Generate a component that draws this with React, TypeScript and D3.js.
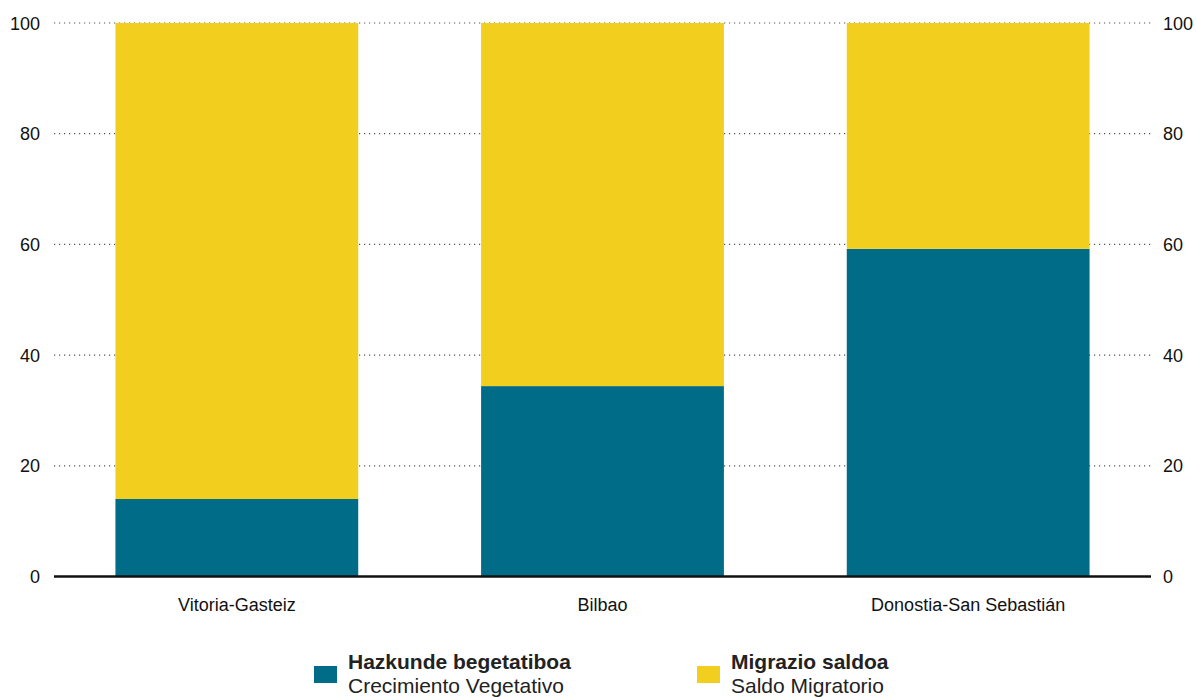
import React from "react";
import * as d3 from "d3";

const categories = ["Vitoria-Gasteiz", "Bilbao", "Donostia-San Sebastián"];
const vegetativo = [14.0, 34.4, 59.2];
const migratorio = [86.0, 65.6, 40.8];
const yTicks = [0, 20, 40, 60, 80, 100];
const seriesNamesEu = ["Hazkunde begetatiboa", "Migrazio saldoa"];
const seriesNamesEs = ["Crecimiento Vegetativo", "Saldo Migratorio"];
const colors = ["#006c87", "#f2cf1e"];

export default function App() {
  const W = 1196, H = 697;
  const left = 54, right = 1151, top = 23, bottom = 576.5;
  const x = d3.scaleBand<string>().domain(categories).range([left, right]).paddingInner(0.336).paddingOuter(0.168);
  const y = d3.scaleLinear().domain([0, 100]).range([bottom, top]);
  const stackData = categories.map((c, i) => ({ cat: c, veg: vegetativo[i], mig: migratorio[i] }));
  const stack = d3.stack<any>().keys(["veg", "mig"])(stackData);
  const font = "'Liberation Sans', Arial, sans-serif";
  return (
    <svg width={W} height={H} style={{ position: "absolute", left: 0, top: 0, fontFamily: font }}>
      {yTicks.filter(t => t !== 0).map(t => (
        <line key={t} x1={left} x2={right} y1={y(t)} y2={y(t)} stroke="#555" strokeWidth={1.2} strokeDasharray="1.2,3.8" />
      ))}
      {stack.map((s, si) => (
        <g key={si} fill={colors[si]}>
          {s.map((d, i) => (
            <rect key={i} x={x(categories[i])} width={x.bandwidth()} y={y(d[1])} height={y(d[0]) - y(d[1])} />
          ))}
        </g>
      ))}
      <line x1={left} x2={right} y1={bottom} y2={bottom} stroke="#111" strokeWidth={2.5} />
      {yTicks.map(t => (
        <g key={t} fontSize={18} fill="#111">
          <text x={40} y={y(t) + 6.5} textAnchor="end">{t}</text>
          <text x={1163} y={y(t) + 6.5} textAnchor="start">{t}</text>
        </g>
      ))}
      {categories.map(c => (
        <text key={c} x={(x(c) as number) + x.bandwidth() / 2} y={611} textAnchor="middle" fontSize={18} fill="#111">{c}</text>
      ))}
      {[0, 1].map(i => {
        const lx = i === 0 ? 314 : 697;
        return (
          <g key={i}>
            <rect x={lx} y={666} width={23} height={17} fill={colors[i]} />
            <text x={lx + 34} y={669} fontSize={21} fontWeight="bold" fill="#222">{seriesNamesEu[i]}</text>
            <text x={lx + 34} y={693} fontSize={21} fill="#222">{seriesNamesEs[i]}</text>
          </g>
        );
      })}
    </svg>
  );
}
